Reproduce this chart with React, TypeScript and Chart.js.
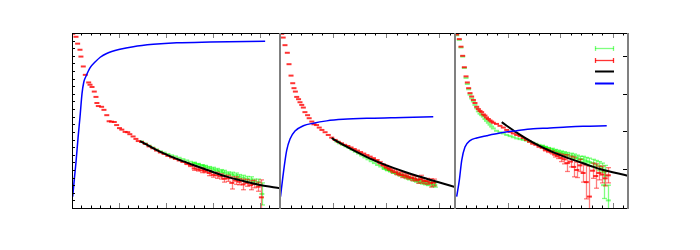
import React, { useEffect, useRef } from "react";
import { Chart, registerables } from "chart.js";
Chart.register(...registerables);

type Row = [number, number, number];
type Pt = [number, number];

// ---------- Panel 1 ----------
const P1_RED: Row[] = [
  [0.15, 22.9, 0], [0.85, 22.5, 0], [1.2, 21.6, 0], [1.7, 20.8, 0], [1.9, 19.9, 0], [2.4, 18.6, 0],
  [2.83, 17.5, 0], [3.55, 16.5, 0], [3.83, 16.2, 0], [4.26, 15.9, 0], [4.74, 15.3, 0], [5.1, 14.6, 0],
  [5.3, 13.8, 0], [5.6, 13.4, 0], [6.3, 13.3, 0], [6.8, 12.9, 0], [7.4, 12.2, 0], [7.9, 11.4, 0],
  [8.4, 11.35, 0], [9.0, 11.3, 0], [9.5, 10.9, 0], [10.1, 10.5, 0], [10.6, 10.3, 0], [11.3, 10.0, 0],
  [11.85, 9.96, 0], [12.3, 9.7, 0], [13.0, 9.4, 0], [13.6, 9.08, 0], [14.1, 8.8, 0],
  [14.8, 8.68, 0], [15.6, 8.42, 0], [16.4, 8.1, 0], [17.2, 7.85, 0], [18.0, 7.55, 0], [18.8, 7.3, 0],
  [19.6, 7.1, 0], [20.4, 6.85, 0], [21.2, 6.65, 0], [22.0, 6.45, 0], [22.8, 6.25, 0], [23.6, 6.05, 0],
  [24.4, 5.82, 0.1], [25.2, 5.6, 0.15], [26.0, 5.2, 0.25], [26.8, 5.05, 0.2], [27.6, 4.95, 0.3],
  [28.4, 4.85, 0.2], [29.2, 4.6, 0.35], [30.0, 4.35, 0.3], [30.8, 4.3, 0.4], [31.6, 4.15, 0.35],
  [32.4, 3.85, 0.45], [33.2, 3.9, 0.4], [34.0, 3.3, 0.8], [34.8, 3.6, 0.5], [35.6, 3.45, 0.4],
  [36.4, 3.1, 0.7], [37.2, 3.3, 0.45], [38.0, 3.0, 0.6], [38.8, 3.15, 0.5], [39.6, 2.8, 0.6],
  [40.3, 1.4, 2.3],
];
const P1_GREEN: Row[] = [
  [14.8, 8.75, 0], [15.6, 8.48, 0], [16.4, 8.2, 0], [17.2, 7.95, 0], [18.0, 7.7, 0], [18.8, 7.45, 0],
  [19.6, 7.28, 0], [20.4, 7.1, 0], [21.2, 6.92, 0], [22.0, 6.78, 0], [22.8, 6.6, 0], [23.6, 6.42, 0],
  [24.4, 6.25, 0], [25.2, 6.08, 0], [26.0, 5.92, 0.1], [26.8, 5.75, 0.1], [27.6, 5.6, 0.1],
  [28.4, 5.45, 0.15], [29.2, 5.3, 0.15], [30.0, 5.15, 0.2], [30.8, 5.0, 0.2], [31.6, 4.85, 0.2],
  [32.4, 4.7, 0.25], [33.2, 4.55, 0.2], [34.0, 4.45, 0.25], [34.8, 4.3, 0.3], [35.6, 4.15, 0.25],
  [36.4, 4.0, 0.3], [37.2, 3.85, 0.3], [38.0, 3.75, 0.35], [38.8, 3.5, 0.3], [39.6, 3.4, 0.4],
  [40.4, 1.85, 1.45],
];
const P1_FIT: Pt[] = [
  [14.5, 8.8], [18.7, 7.4], [22.3, 6.45], [25.8, 5.66], [29.4, 4.87], [32.9, 4.12], [36.4, 3.55],
  [40.0, 3.03], [44.26, 2.59],
];
const P1_CUM: Pt[] = [
  [0.15, 0.28], [0.5, 0.75], [0.85, 1.19], [1.3, 1.85], [1.7, 2.38], [2.13, 3.0], [2.5, 3.3],
  [2.98, 3.46], [3.83, 3.68], [4.96, 3.84], [6.0, 3.96], [7.38, 4.06], [10.2, 4.17], [13.04, 4.24],
  [17.3, 4.3], [22.3, 4.34], [29.4, 4.36], [41.1, 4.38],
];

// ---------- Panel 2 ----------
const P2_RED: Row[] = [
  [0.32, 22.9, 0], [0.6, 22.4, 0], [0.94, 21.4, 0], [1.38, 20.4, 0], [1.7, 18.9, 0], [2.08, 17.4, 0],
  [2.4, 16.4, 0], [2.64, 15.75, 0], [2.9, 15.3, 0], [3.15, 14.6, 0], [3.5, 14.3, 0], [3.77, 13.9, 0],
  [4.1, 13.55, 0], [4.4, 13.2, 0], [4.7, 12.6, 0], [5.2, 12.2, 0], [5.5, 11.8, 0], [6.0, 11.36, 0],
  [6.4, 11.0, 0], [6.9, 10.9, 0], [7.4, 10.57, 0], [7.9, 10.26, 0], [8.5, 9.96, 0], [9.1, 9.6, 0],
  [9.75, 9.25, 0],
  [10.4, 8.95, 0], [11.0, 8.7, 0], [11.6, 8.5, 0], [12.2, 8.3, 0], [12.8, 8.15, 0], [13.4, 7.95, 0],
  [14.0, 7.75, 0], [14.6, 7.55, 0], [15.2, 7.35, 0], [15.8, 7.15, 0], [16.4, 6.95, 0], [17.0, 6.75, 0],
  [17.6, 6.5, 0.1], [18.2, 6.25, 0.1], [18.8, 5.95, 0.15], [19.4, 5.65, 0.15], [20.0, 5.4, 0.2],
  [20.6, 5.15, 0.2], [21.2, 4.9, 0.25], [21.8, 4.7, 0.3], [22.4, 4.5, 0.25], [23.0, 4.35, 0.35],
  [23.6, 4.25, 0.3], [24.2, 4.1, 0.3], [24.8, 3.95, 0.35], [25.4, 3.85, 0.3], [26.0, 3.7, 0.45],
  [26.6, 3.8, 0.5], [27.2, 3.55, 0.35], [27.8, 3.5, 0.4], [28.4, 3.3, 0.55], [29.0, 3.35, 0.45],
];
const P2_GREEN: Row[] = [
  [10.7, 8.75, 0], [11.2, 8.5, 0], [11.8, 8.3, 0], [12.4, 8.1, 0], [13.0, 7.9, 0], [13.6, 7.65, 0],
  [14.2, 7.4, 0], [14.8, 7.15, 0], [15.4, 6.9, 0], [16.0, 6.65, 0], [16.6, 6.4, 0], [17.2, 6.15, 0],
  [17.8, 5.9, 0], [18.4, 5.65, 0], [19.0, 5.45, 0], [19.6, 5.2, 0.1], [20.2, 5.0, 0.1], [20.8, 4.85, 0.1],
  [21.4, 4.65, 0.1], [22.0, 4.5, 0.15], [22.6, 4.35, 0.15], [23.2, 4.2, 0.15], [23.8, 4.05, 0.2],
  [24.4, 3.9, 0.2], [25.0, 3.75, 0.2], [25.6, 3.6, 0.2], [26.2, 3.5, 0.25], [26.8, 3.4, 0.25],
  [27.4, 3.3, 0.25], [28.0, 3.2, 0.25], [28.6, 3.1, 0.3], [29.2, 3.05, 0.3],
];
const P2_FIT: Pt[] = [
  [9.75, 9.2], [10.7, 8.78], [13.8, 7.6], [17.0, 6.5], [20.1, 5.6], [23.3, 4.8], [26.4, 4.1],
  [29.6, 3.45], [33.0, 2.75],
];
const P2_CUM: Pt[] = [
  [0.1, 0.28], [0.62, 0.89], [1.26, 1.5], [1.89, 1.8], [2.83, 2.01], [4.4, 2.15], [6.3, 2.22],
  [8.8, 2.28], [11.9, 2.32], [17.0, 2.35], [23.3, 2.37], [28.9, 2.39],
];

// ---------- Panel 3 ----------
const P3_RED: Row[] = [
  [0.32, 22.8, 0], [0.82, 22.2, 0], [1.14, 21.2, 0], [1.46, 20.0, 0], [1.78, 18.5, 0], [2.1, 17.3, 0],
  [2.35, 16.5, 0], [2.6, 15.75, 0], [2.86, 15.1, 0], [3.17, 14.65, 0], [3.5, 14.2, 0], [3.8, 13.8, 0],
  [4.13, 13.3, 0], [4.45, 13.0, 0], [4.76, 12.76, 0], [5.08, 12.6, 0], [5.4, 12.3, 0], [5.7, 12.15, 0],
  [6.0, 11.9, 0], [6.35, 11.7, 0], [6.67, 11.5, 0], [6.98, 11.36, 0], [7.3, 11.2, 0], [7.9, 11.05, 0],
  [8.57, 10.8, 0], [9.2, 10.57, 0], [9.85, 10.26, 0], [10.5, 10.0, 0], [11.1, 9.8, 0], [11.75, 9.6, 0],
  [12.4, 9.45, 0], [13.0, 9.2, 0], [13.6, 8.95, 0], [14.2, 8.7, 0], [14.8, 8.45, 0], [15.4, 8.3, 0],
  [16.0, 8.05, 0], [16.6, 7.9, 0], [17.2, 7.65, 0.15], [17.8, 7.5, 0.2], [18.4, 7.3, 0.2],
  [19.0, 7.0, 0.3], [19.6, 6.85, 0.35], [20.2, 6.6, 0.5], [20.8, 6.4, 0.6], [21.4, 5.9, 1.1],
  [22.0, 6.1, 0.7], [22.6, 5.4, 1.3], [23.2, 5.0, 1.0], [23.8, 5.6, 0.8], [24.4, 4.6, 1.2],
  [25.0, 3.4, 2.2], [25.6, 1.5, 4.0], [26.2, 4.9, 1.0], [26.8, 4.2, 1.6], [27.4, 4.6, 0.9],
  [28.0, 4.4, 1.1], [28.6, 3.9, 1.0], [29.2, 4.3, 1.0],
];
const P3_GREEN: Row[] = [
  [0.32, 22.7, 0], [0.82, 22.1, 0], [1.14, 21.1, 0], [1.46, 19.9, 0], [1.78, 18.4, 0], [2.1, 17.1, 0],
  [2.35, 16.3, 0], [2.6, 15.6, 0], [2.86, 14.9, 0], [3.17, 14.4, 0], [3.5, 14.0, 0], [3.8, 13.55, 0],
  [4.13, 13.1, 0], [4.45, 12.7, 0], [4.76, 12.4, 0], [5.08, 12.2, 0], [5.4, 12.0, 0], [5.7, 11.7, 0],
  [6.0, 11.45, 0], [6.35, 11.2, 0], [6.67, 10.95, 0], [6.98, 10.7, 0], [7.3, 10.45, 0], [7.9, 10.15, 0],
  [8.57, 9.95, 0], [9.2, 9.8, 0], [9.85, 9.6, 0], [10.5, 9.45, 0], [11.1, 9.3, 0], [11.75, 9.15, 0],
  [12.4, 9.05, 0], [13.0, 8.95, 0], [13.6, 8.85, 0], [14.2, 8.72, 0], [14.8, 8.6, 0], [15.4, 8.45, 0],
  [16.0, 8.3, 0], [16.6, 8.15, 0.1], [17.2, 8.0, 0.1], [17.8, 7.85, 0.1], [18.4, 7.7, 0.15],
  [19.0, 7.55, 0.15], [19.6, 7.4, 0.2], [20.2, 7.3, 0.2], [20.8, 7.15, 0.25], [21.4, 7.05, 0.25],
  [22.0, 6.9, 0.3], [22.6, 6.8, 0.3], [23.2, 6.6, 0.35], [23.8, 6.45, 0.35], [24.4, 6.4, 0.4],
  [25.0, 6.2, 0.45], [25.6, 6.05, 0.5], [26.2, 5.9, 0.5], [26.8, 5.7, 0.55], [27.4, 5.5, 0.6],
  [28.0, 5.3, 0.6], [28.3, 3.0, 1.75], [28.6, 4.9, 0.7], [29.2, 1.0, 2.0],
];
const P3_FIT: Pt[] = [
  [8.9, 11.28], [11.75, 9.91], [14.9, 8.59], [18.1, 7.5], [21.3, 6.62], [24.4, 5.88], [27.6, 5.13],
  [32.9, 4.25],
];
const P3_CUM: Pt[] = [
  [0.32, 0.28], [0.82, 0.71], [1.28, 1.24], [1.9, 1.59], [2.86, 1.76], [4.13, 1.83], [6.04, 1.89],
  [8.57, 1.96], [11.75, 2.02], [14.9, 2.07], [18.1, 2.09], [21.3, 2.12], [24.4, 2.14], [28.9, 2.15],
];

// ---------- axes ----------
const Y_MIN = 0;
const Y_MAX = 23;
const Y2_MIN = -0.02;
const Y2_MAX = 4.6;
const X_MINOR_STEP = 2;
const X_MAJOR_STEP = 10;
const Y_TICK_STEP = 1;
const Y2_TICKS = [1, 2, 3, 4];

const RED = "rgba(255,0,0,0.8)";
const RED_BAR = "rgba(255,0,0,0.5)";
const GREEN = "rgba(0,255,0,0.5)";
const GREEN_BAR = "rgba(0,255,0,0.5)";
const BLUE = "#0000ff";
const BLACK = "#000000";

interface PanelCfg {
  left: number;
  width: number;
  xMax: number;
  red: Row[];
  green: Row[];
  fit: Pt[];
  cum: Pt[];
  first: boolean;
  last: boolean;
}

const PAD = 10;
const PANELS: PanelCfg[] = [
  { left: 72, width: 208, xMax: 44.26, red: P1_RED, green: P1_GREEN, fit: P1_FIT, cum: P1_CUM, first: true, last: false },
  { left: 280, width: 175, xMax: 33.0, red: P2_RED, green: P2_GREEN, fit: P2_FIT, cum: P2_CUM, first: false, last: false },
  { left: 455, width: 173, xMax: 32.95, red: P3_RED, green: P3_GREEN, fit: P3_FIT, cum: P3_CUM, first: false, last: true },
];
const AREA_TOP = 33;
const AREA_H = 175;

function makePlugin(cfg: PanelCfg) {
  const seg = (ctx: CanvasRenderingContext2D, x1: number, y1: number, x2: number, y2: number) => {
    ctx.beginPath();
    ctx.moveTo(x1, y1);
    ctx.lineTo(x2, y2);
    ctx.stroke();
  };
  return {
    id: "panelDecor",
    afterDatasetDraw(chart: any, args: any) {
      const ds: any = chart.data.datasets[args.index];
      if (!ds.errColor) return;
      const ctx: CanvasRenderingContext2D = chart.ctx;
      const a = chart.chartArea;
      const xs = chart.scales.x;
      const ys = chart.scales.y;
      ctx.save();
      ctx.beginPath();
      ctx.rect(a.left, a.top, a.right - a.left, a.bottom - a.top);
      ctx.clip();
      ctx.strokeStyle = ds.errColor;
      ctx.lineWidth = 1.3;
      for (const p of ds.data) {
        if (!p.e) continue;
        const x = Math.round(xs.getPixelForValue(p.x)) + 0.5;
        const yt = ys.getPixelForValue(p.y + p.e);
        const yb = ys.getPixelForValue(p.y - p.e);
        seg(ctx, x, yt, x, yb);
        seg(ctx, x - 2.5, yt, x + 2.5, yt);
        seg(ctx, x - 2.5, yb, x + 2.5, yb);
      }
      ctx.restore();
    },
    afterDraw(chart: any) {
      const ctx: CanvasRenderingContext2D = chart.ctx;
      const a = chart.chartArea;
      const xs = chart.scales.x;
      const ys = chart.scales.y;
      const y2s = chart.scales.y2;
      ctx.save();
      ctx.lineWidth = 1;
      // x ticks top and bottom (inward)
      for (let v = 0; v <= cfg.xMax + 1e-9; v += X_MINOR_STEP) {
        const major = Math.abs(v % X_MAJOR_STEP) < 1e-6;
        const px = Math.round(xs.getPixelForValue(v)) + 0.5;
        const len = major ? 5 : 2.5;
        ctx.strokeStyle = major ? "#808080" : "#000000";
        seg(ctx, px, a.bottom, px, a.bottom - len);
        seg(ctx, px, a.top, px, a.top + len);
      }
      if (cfg.first) {
        ctx.strokeStyle = "#000000";
        for (let v = Y_MIN + Y_TICK_STEP; v < Y_MAX; v += Y_TICK_STEP) {
          const py = Math.round(ys.getPixelForValue(v)) + 0.5;
          seg(ctx, a.left, py, a.left + 3, py);
        }
      }
      if (cfg.last) {
        ctx.strokeStyle = "#000000";
        for (const v of Y2_TICKS) {
          const py = Math.round(y2s.getPixelForValue(v)) + 0.5;
          seg(ctx, a.right, py, a.right - 5, py);
        }
      }
      // frame
      ctx.strokeStyle = "#000000";
      ctx.lineWidth = 1;
      seg(ctx, a.left, a.top + 0.5, a.right, a.top + 0.5);
      seg(ctx, a.left, a.bottom + 0.5, a.right, a.bottom + 0.5);
      if (cfg.first) {
        seg(ctx, a.left + 0.5, a.top, a.left + 0.5, a.bottom + 1);
      } else {
        ctx.strokeStyle = "#808080";
        ctx.lineWidth = 2;
        seg(ctx, a.left, a.top, a.left, a.bottom + 1);
      }
      ctx.strokeStyle = "#808080";
      ctx.lineWidth = 2;
      seg(ctx, a.right, a.top, a.right, a.bottom + 1);
      // key (no titles)
      if (cfg.last) {
        const x1 = a.right - 33;
        const x2 = a.right - 14;
        const rows: [number, string, boolean][] = [
          [a.top + 15.5, GREEN, true],
          [a.top + 27.5, RED, true],
          [a.top + 38.5, BLACK, false],
          [a.top + 50.5, BLUE, false],
        ];
        for (const [y, c, bars] of rows) {
          ctx.strokeStyle = c;
          ctx.lineWidth = bars ? 1.3 : 2;
          seg(ctx, x1, y, x2, y);
          if (bars) {
            seg(ctx, x1 + 0.5, y - 2.5, x1 + 0.5, y + 2.5);
            seg(ctx, x2 - 0.5, y - 2.5, x2 - 0.5, y + 2.5);
          }
        }
      }
      ctx.restore();
    },
  };
}

function Panel({ cfg }: { cfg: PanelCfg }) {
  const ref = useRef<HTMLCanvasElement>(null);
  const w = cfg.width + 2 * PAD;
  const h = AREA_H + 2 * PAD;
  useEffect(() => {
    const toRows = (rows: Row[]) => rows.map(([x, y, e]) => ({ x, y, e }));
    const toPts = (pts: Pt[]) => pts.map(([x, y]) => ({ x, y }));
    const chart = new Chart(ref.current as HTMLCanvasElement, {
      type: "line",
      data: {
        datasets: [
          {
            data: toPts(cfg.cum) as any,
            yAxisID: "y2",
            borderColor: BLUE,
            borderWidth: 1.5,
            pointRadius: 0,
            fill: false,
            cubicInterpolationMode: "monotone",
            order: 0,
          },
          {
            data: toPts(cfg.fit) as any,
            yAxisID: "y",
            borderColor: BLACK,
            borderWidth: 2,
            pointRadius: 0,
            fill: false,
            cubicInterpolationMode: "monotone",
            order: 1,
          },
          {
            data: toRows(cfg.red) as any,
            yAxisID: "y",
            showLine: false,
            pointStyle: "line",
            pointRadius: 2.5,
            pointBorderWidth: 2,
            pointBorderColor: RED,
            borderColor: RED,
            errColor: RED_BAR,
            order: 2,
          } as any,
          {
            data: toRows(cfg.green) as any,
            yAxisID: "y",
            showLine: false,
            pointStyle: "line",
            pointRadius: 2.5,
            pointBorderWidth: 2,
            pointBorderColor: GREEN,
            borderColor: GREEN,
            errColor: GREEN_BAR,
            order: 3,
          } as any,
        ],
      },
      options: {
        animation: false,
        responsive: false,
        maintainAspectRatio: false,
        events: [],
        layout: { padding: PAD },
        scales: {
          x: { type: "linear", min: 0, max: cfg.xMax, display: false },
          y: { type: "linear", min: Y_MIN, max: Y_MAX, display: false },
          y2: { type: "linear", min: Y2_MIN, max: Y2_MAX, display: false, position: "right" },
        },
        plugins: { legend: { display: false }, tooltip: { enabled: false } },
      },
      plugins: [makePlugin(cfg) as any],
    });
    return () => chart.destroy();
  }, []);
  return (
    <canvas
      ref={ref}
      width={w}
      height={h}
      style={{ position: "absolute", left: cfg.left - PAD, top: AREA_TOP - PAD, width: w, height: h }}
    />
  );
}

export default function App() {
  return (
    <div style={{ position: "fixed", left: 0, top: 0, width: 700, height: 250, background: "#ffffff", overflow: "hidden" }}>
      {PANELS.map((p, i) => (
        <Panel key={i} cfg={p} />
      ))}
    </div>
  );
}
